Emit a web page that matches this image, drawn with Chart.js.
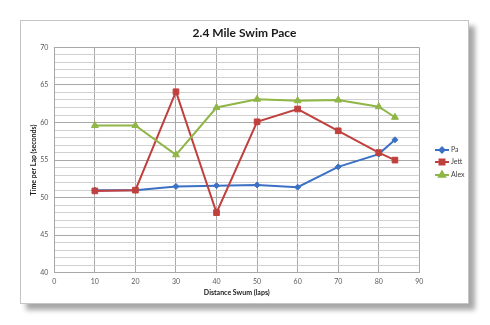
<!DOCTYPE html>
<html>
<head>
<meta charset="utf-8">
<script src="https://cdn.jsdelivr.net/npm/chart.js@4"></script>
<style>
  body { margin: 0; background: #fff; }
  .frame {
    position: absolute;
    left: 20px;
    top: 20px;
    width: 447px;
    height: 282px;
    border: 1px solid #c4c4c4;
    background: #fff;
    box-shadow: 6px 6px 5px rgba(0, 0, 0, 0.35);
  }
  canvas { display: block; }
</style>
</head>
<body>
<div class="frame">
  <canvas id="paceChart" width="447" height="282"></canvas>
</div>
<script>
// laps swum at each split
const laps = [10, 20, 30, 40, 50, 60, 70, 80, 84];

// seconds per lap for each swimmer
const paTimes = [51.0, 51.0, 51.5, 51.6, 51.7, 51.4, 54.1, 55.8, 57.7];
const jettTimes = [50.9, 51.0, 64.1, 48.0, 60.1, 61.8, 58.9, 56.0, 55.0];
const alexTimes = [59.6, 59.6, 55.7, 62.0, 63.1, 62.9, 63.0, 62.1, 60.7];

const swimmers = ["Pa", "Jett", "Alex"];
const yLabelTicks = [40, 45, 50, 55, 60, 65, 70];

const colors = ["#3b70c4", "#c0403d", "#8fb646"];
const markers = ["rectRot", "rect", "triangle"];
const markerSizes = [3, 4, 4];

const FONT = "Lato, 'Open Sans', sans-serif";

const toPoints = (times) => laps.map((lap, i) => ({ x: lap, y: times[i] }));

const makeDataset = (idx, times) => ({
  label: swimmers[idx],
  data: toPoints(times),
  borderColor: colors[idx],
  backgroundColor: colors[idx],
  borderWidth: 2,
  pointStyle: markers[idx],
  pointRadius: markerSizes[idx],
  pointBorderWidth: 1,
  tension: 0,
  order: 3 - idx,
});

// excel-style legend: short line with the marker in the middle
const sideLegend = {
  id: "sideLegend",
  afterDraw(chart) {
    const ctx = chart.ctx;
    const x0 = 414;
    const rowY = [129, 141, 154];
    chart.data.datasets.forEach((ds, i) => {
      const y = rowY[i];
      ctx.save();
      ctx.strokeStyle = ds.borderColor;
      ctx.lineWidth = 2;
      ctx.beginPath();
      ctx.moveTo(x0, y);
      ctx.lineTo(x0 + 14, y);
      ctx.stroke();
      Chart.helpers.drawPoint(ctx, {
        pointStyle: ds.pointStyle,
        radius: ds.pointRadius - 0.5,
        rotation: 0,
        borderWidth: 1,
      }, x0 + 7, y);
      ctx.fillStyle = ds.backgroundColor;
      ctx.fill();
      ctx.fillStyle = "#404040";
      ctx.font = "7px " + FONT;
      ctx.textBaseline = "middle";
      ctx.fillText(ds.label, x0 + 16, y);
      ctx.restore();
    });
  },
};

const ctx = document.getElementById("paceChart").getContext("2d");
const paceChart = new Chart(ctx, {
  type: "line",
  data: {
    datasets: [
      makeDataset(0, paTimes),
      makeDataset(1, jettTimes),
      makeDataset(2, alexTimes),
    ],
  },
  options: {
    responsive: false,
    animation: false,
    layout: { padding: 0 },
    plugins: {
      legend: { display: false },
      tooltip: { enabled: false },
      title: {
        display: true,
        text: "2.4 Mile Swim Pace",
        color: "#1a1a1a",
        font: { family: FONT, size: 12, weight: "bold" },
        padding: { top: 5, bottom: 7 },
      },
    },
    scales: {
      x: {
        type: "linear",
        min: 0,
        max: 90,
        afterFit: (s) => { s.height = 30.2; },
        ticks: {
          stepSize: 10,
          color: "#595959",
          font: { family: FONT, size: 7 },
          padding: 5,
        },
        grid: { color: "#a8a8a8", lineWidth: 1, drawTicks: false },
        border: { color: "#a8a8a8" },
        title: {
          display: true,
          text: "Distance Swum (laps)",
          color: "#1a1a1a",
          font: { family: FONT, size: 7, weight: "bold" },
          padding: { top: 2, bottom: 6 },
        },
      },
      y: {
        min: 40,
        max: 70,
        afterFit: (s) => { s.width = 33.3; },
        ticks: {
          stepSize: 1,
          autoSkip: false,
          color: "#595959",
          font: { family: FONT, size: 7 },
          padding: 6,
          callback: (v) => (yLabelTicks.includes(v) ? v : ""),
        },
        grid: {
          drawTicks: false,
          color: (c) => (c.tick && c.tick.value % 5 === 0 ? "#a8a8a8" : "#d0d0d0"),
          lineWidth: 1,
        },
        border: { color: "#a8a8a8" },
        title: {
          display: true,
          text: "Time per Lap (seconds)",
          color: "#1a1a1a",
          font: { family: FONT, size: 7, weight: "bold" },
          padding: { top: 9, bottom: 2 },
        },
      },
      // empty axis that reserves room for the legend on the right
      legendSpace: {
        type: "linear",
        position: "right",
        afterFit: (s) => { s.width = 48.7; },
        ticks: { display: false },
        grid: { display: false, drawOnChartArea: false },
        border: { display: false },
      },
    },
  },
  plugins: [sideLegend],
});
</script>
</body>
</html>
